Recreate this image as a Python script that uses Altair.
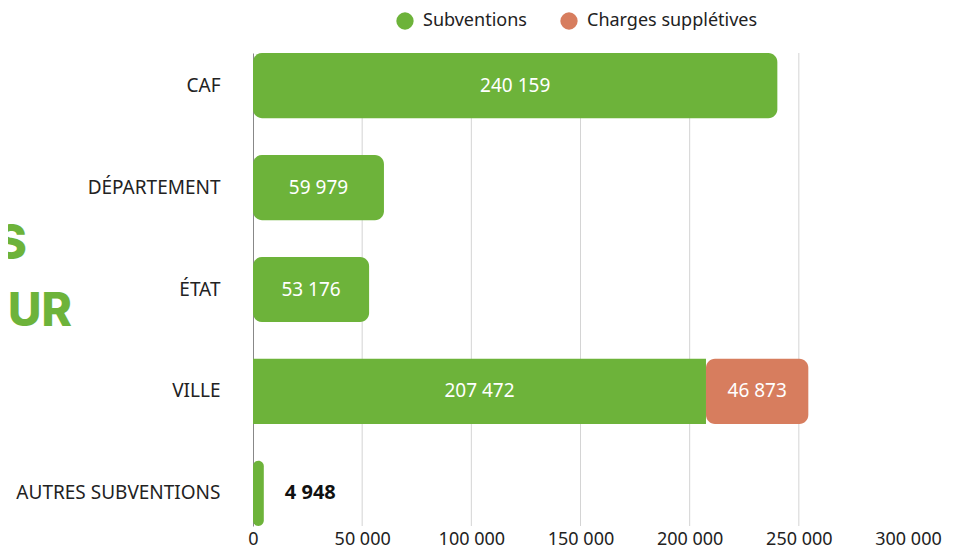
import altair as alt
import pandas as pd

categories = ["CAF", "DÉPARTEMENT", "ÉTAT", "VILLE", "AUTRES SUBVENTIONS"]
subventions = [240159, 59979, 53176, 207472, 4948]
charges = [0, 0, 0, 46873, 0]
series = ["Subventions", "Charges supplétives"]
colors = ["#6DB33A", "#D77D5E"]
x_ticks = [0, 50000, 100000, 150000, 200000, 250000, 300000]
grid_ticks = [50000, 100000, 150000, 200000, 250000]
title_lines = ["SUBVENTIONS", "PAR FINANCEUR"]

rows = []
for c, s, ch in zip(categories, subventions, charges):
    rows.append({"cat": c, "serie": series[0], "start": 0, "end": s, "val": s,
                 "has_next": ch > 0, "small": s < 20000})
    if ch > 0:
        rows.append({"cat": c, "serie": series[1], "start": s, "end": s + ch, "val": ch,
                     "has_next": False, "small": False})
df = pd.DataFrame(rows)
df["mid"] = (df["start"] + df["end"]) / 2

FONT = "Noto Sans"

y_enc = alt.Y("cat:N", sort=categories, title=None,
              scale=alt.Scale(paddingInner=0.36, paddingOuter=0),
              axis=alt.Axis(labelFontSize=19, labelColor="#222", labelFont=FONT,
                            labelPadding=33, labelLimit=0, ticks=False,
                            domainColor="#888", domainWidth=1, grid=False))
x_scale = alt.Scale(domain=[0, 300000], nice=False)
x_axis = alt.Axis(values=x_ticks, format=",.0f", labelFontSize=18,
                  labelColor="#222", labelFont=FONT, labelPadding=4,
                  ticks=False, domain=False, grid=False, labelFlush=False)
x_enc = alt.X("start:Q", title=None, scale=x_scale, axis=x_axis)
color_enc = alt.Color("serie:N", title=None,
                      scale=alt.Scale(domain=series, range=colors),
                      legend=alt.Legend(orient="none", direction="horizontal",
                                        legendX=143, legendY=-41,
                                        symbolType="circle", symbolSize=300,
                                        labelFontSize=18, labelFont=FONT,
                                        labelLimit=0,
                                        labelColor="#222", columnPadding=33,
                                        labelOffset=9, symbolStrokeWidth=0))

gdf = pd.DataFrame({"g": grid_ticks})
grid = alt.Chart(gdf).mark_rule(color="#d4d4d4", strokeWidth=1).encode(
    x=alt.X("g:Q", title=None, scale=x_scale, axis=x_axis))

base = alt.Chart(df)

bars_round = base.transform_filter("!datum.has_next").mark_bar(
    cornerRadiusEnd=9).encode(y=y_enc, x=x_enc, x2="end:Q", color=color_enc)
bars_flat = base.transform_filter("datum.has_next").mark_bar().encode(
    y=y_enc, x=x_enc, x2="end:Q", color=color_enc)

labels_in = base.transform_filter("!datum.small").mark_text(
    color="white", fontSize=19, font=FONT).encode(
    y=alt.Y("cat:N", sort=categories), x=alt.X("mid:Q"),
    text=alt.Text("val:Q", format=",.0f"))
labels_out = base.transform_filter("datum.small").mark_text(
    color="#111", fontSize=20, font=FONT, fontWeight="bold", align="left", dx=21).encode(
    y=alt.Y("cat:N", sort=categories), x=alt.X("end:Q"),
    text=alt.Text("val:Q", format=",.0f"))

tdf = pd.DataFrame({"t": title_lines})
t1 = alt.Chart(tdf).transform_filter(alt.datum.t == title_lines[0]).mark_text(
    align="right", baseline="middle", fontSize=48, font="Inter", fontWeight=800,
    color="#6DB33A").encode(text="t:N", x=alt.value(-226), y=alt.value(192))
t2 = alt.Chart(tdf).transform_filter(alt.datum.t == title_lines[1]).mark_text(
    align="right", baseline="middle", fontSize=46, font="Inter", fontWeight=800,
    color="#6DB33A").encode(text="t:N", x=alt.value(-181), y=alt.value(259))

chart = alt.layer(grid, bars_round, bars_flat, labels_in, labels_out, t1, t2).properties(
    width=655, height=473,
    autosize=alt.AutoSizeParams(type="none"),
    padding={"left": 245, "top": 45, "right": 40, "bottom": 28},
).configure(font=FONT).configure_view(stroke="transparent", strokeWidth=0)

chart.save("out.html", embed_options={
    "renderer": "svg", "actions": False,
    "formatLocale": {"decimal": ",", "thousands": "\u00a0", "grouping": [3],
                     "currency": ["", " €"]}})
